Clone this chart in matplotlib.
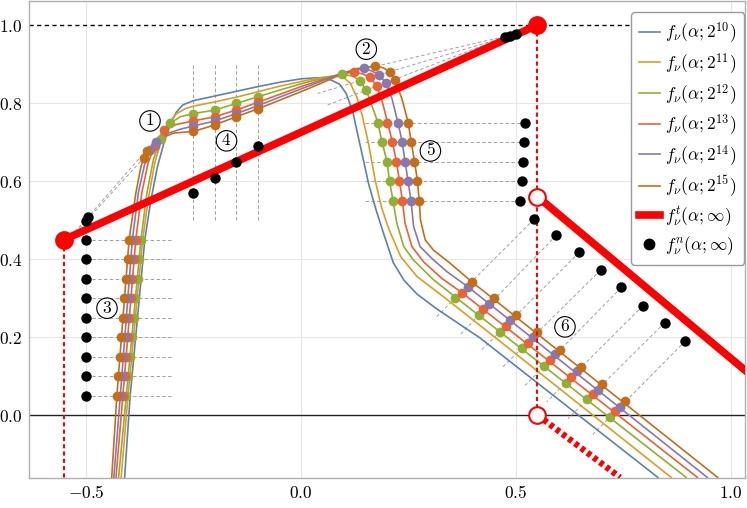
import numpy as np
import matplotlib.pyplot as plt
from matplotlib.lines import Line2D

plt.rcParams['mathtext.fontset'] = 'cm'
plt.rcParams['font.family'] = 'serif'

# colours of the six finite-size curves (k = 10..15)
colors = ['#5E81B5', '#E19C24', '#8FB032', '#EB6235', '#8778B3', '#C56E1A']
labels = [r'$f_\nu(\alpha;2^{%d})$' % k for k in range(10, 16)]

# curves: (alpha, f)
curve_10 = [(-0.410, -0.16), (-0.397, 0.05), (-0.363, 0.45), (-0.349, 0.55), (-0.334, 0.635),
            (-0.318, 0.70), (-0.303, 0.748), (-0.29, 0.776), (-0.275, 0.795), (-0.25, 0.806),
            (-0.20, 0.818), (-0.15, 0.830), (-0.10, 0.842), (-0.05, 0.853), (0.0, 0.862),
            (0.04, 0.865), (0.07, 0.859), (0.09, 0.848), (0.105, 0.825), (0.12, 0.78),
            (0.138, 0.69), (0.158, 0.59), (0.175, 0.525), (0.192, 0.466), (0.215, 0.39),
            (0.24, 0.345), (0.27, 0.31), (0.316, 0.272), (0.416, 0.198), (0.83, -0.16)]
curve_11 = [(-0.418, -0.16), (-0.402, 0.05), (-0.368, 0.45), (-0.354, 0.56), (-0.340, 0.645),
            (-0.325, 0.705), (-0.31, 0.745), (-0.29, 0.772), (-0.27, 0.785), (-0.25, 0.792),
            (-0.20, 0.803), (-0.15, 0.815), (-0.10, 0.829), (-0.05, 0.843), (0.0, 0.855),
            (0.05, 0.866), (0.08, 0.869), (0.10, 0.865), (0.115, 0.850), (0.13, 0.815),
            (0.142, 0.77), (0.157, 0.697), (0.173, 0.60), (0.188, 0.53), (0.204, 0.478),
            (0.232, 0.406), (0.27, 0.355), (0.332, 0.303), (0.447, 0.203), (0.861, -0.16)]
curve_12 = [(-0.424, -0.16), (-0.406, 0.05), (-0.372, 0.45), (-0.358, 0.57), (-0.343, 0.655),
            (-0.326, 0.707), (-0.304, 0.748), (-0.28, 0.765), (-0.25, 0.773), (-0.20, 0.782),
            (-0.15, 0.799), (-0.10, 0.816), (-0.05, 0.833), (0.0, 0.849), (0.05, 0.864),
            (0.095, 0.874), (0.12, 0.869), (0.137, 0.857), (0.152, 0.833), (0.166, 0.79),
            (0.179, 0.75), (0.188, 0.702), (0.200, 0.651), (0.206, 0.60), (0.214, 0.55),
            (0.223, 0.492), (0.239, 0.432), (0.262, 0.397), (0.308, 0.347), (0.361, 0.301),
            (0.896, -0.16)]
curve_13 = [(-0.430, -0.16), (-0.414, 0.05), (-0.384, 0.45), (-0.370, 0.57), (-0.355, 0.648),
            (-0.340, 0.690), (-0.318, 0.731), (-0.29, 0.745), (-0.25, 0.754), (-0.20, 0.765),
            (-0.15, 0.782), (-0.10, 0.802), (-0.05, 0.822), (0.0, 0.842), (0.05, 0.860),
            (0.09, 0.873), (0.123, 0.880), (0.145, 0.874), (0.160, 0.867), (0.177, 0.843),
            (0.19, 0.80), (0.201, 0.752), (0.212, 0.703), (0.222, 0.651), (0.229, 0.60),
            (0.236, 0.55), (0.242, 0.492), (0.258, 0.432), (0.285, 0.393), (0.328, 0.350),
            (0.374, 0.314), (0.922, -0.16)]
curve_14 = [(-0.435, -0.16), (-0.420, 0.05), (-0.392, 0.45), (-0.378, 0.57), (-0.363, 0.645),
            (-0.351, 0.679), (-0.337, 0.700), (-0.31, 0.722), (-0.28, 0.733), (-0.25, 0.741),
            (-0.20, 0.754), (-0.15, 0.773), (-0.10, 0.793), (-0.05, 0.815), (0.0, 0.836),
            (0.05, 0.857), (0.09, 0.874), (0.12, 0.884), (0.146, 0.889), (0.165, 0.882),
            (0.181, 0.872), (0.198, 0.852), (0.212, 0.81), (0.225, 0.752), (0.235, 0.703),
            (0.242, 0.651), (0.249, 0.60), (0.256, 0.55), (0.262, 0.483), (0.277, 0.432),
            (0.304, 0.402), (0.339, 0.368), (0.388, 0.329), (0.945, -0.16)]
curve_15 = [(-0.440, -0.16), (-0.428, 0.05), (-0.3995, 0.45), (-0.384, 0.568), (-0.372, 0.637),
            (-0.365, 0.660), (-0.357, 0.676), (-0.349, 0.688), (-0.326, 0.710), (-0.295, 0.723),
            (-0.25, 0.727), (-0.20, 0.744), (-0.15, 0.765), (-0.10, 0.785), (-0.05, 0.807),
            (0.0, 0.829), (0.05, 0.852), (0.09, 0.872), (0.13, 0.888), (0.173, 0.895),
            (0.192, 0.890), (0.206, 0.880), (0.219, 0.859), (0.235, 0.81), (0.249, 0.752),
            (0.256, 0.703), (0.264, 0.651), (0.271, 0.60), (0.275, 0.55), (0.278, 0.50),
            (0.289, 0.449), (0.308, 0.423), (0.347, 0.389), (0.397, 0.342), (0.969, -0.16)]
curves = [curve_10, curve_11, curve_12, curve_13, curve_14, curve_15]

# marked points on curves k = 12..15 (green, red, purple, brown)
# (1) knee, two ranks
knee_pts = [[(-0.326, 0.707), (-0.304, 0.748)],
            [(-0.340, 0.690), (-0.318, 0.731)],
            [(-0.351, 0.679), (-0.337, 0.700)],
            [(-0.365, 0.660), (-0.357, 0.676)]]
knee_lim = [(-0.500, 0.497), (-0.495, 0.508)]
# (2) peak, three ranks
peak_pts = [[(0.095, 0.874), (0.137, 0.857), (0.152, 0.833)],
            [(0.123, 0.880), (0.160, 0.867), (0.177, 0.843)],
            [(0.146, 0.889), (0.181, 0.872), (0.198, 0.852)],
            [(0.173, 0.895), (0.206, 0.880), (0.219, 0.859)]]
peak_lim = [(0.499, 0.977), (0.487, 0.973), (0.475, 0.969)]
# (3) left steep part, fixed levels
left_levels = [0.05, 0.10, 0.15, 0.20, 0.25, 0.30, 0.35, 0.40, 0.45]
left_alpha = [[-0.406, -0.402, -0.397, -0.393, -0.389, -0.385, -0.380, -0.376, -0.372],
              [-0.414, -0.410, -0.407, -0.403, -0.399, -0.396, -0.392, -0.388, -0.384],
              [-0.420, -0.417, -0.413, -0.410, -0.406, -0.403, -0.399, -0.396, -0.392],
              [-0.428, -0.425, -0.421, -0.418, -0.414, -0.411, -0.407, -0.403, -0.400]]
left_lim_alpha = -0.5
# (4) plateau, fixed alpha
plat_alpha = [-0.25, -0.20, -0.15, -0.10]
plat_f = [[0.773, 0.782, 0.799, 0.816],
          [0.754, 0.765, 0.782, 0.802],
          [0.741, 0.754, 0.773, 0.793],
          [0.727, 0.744, 0.765, 0.785]]
plat_lim = [0.570, 0.609, 0.650, 0.689]
# (5) drop, fixed levels
drop_levels = [0.75, 0.70, 0.65, 0.60, 0.55]
drop_alpha = [[0.179, 0.188, 0.200, 0.206, 0.214],
              [0.201, 0.212, 0.222, 0.229, 0.236],
              [0.225, 0.235, 0.242, 0.249, 0.256],
              [0.249, 0.256, 0.264, 0.271, 0.275]]
drop_lim_alpha = [0.521, 0.519, 0.517, 0.514, 0.509]
# (6) linear tail
tail_pts = [[(0.358, 0.299), (0.414, 0.256), (0.463, 0.214), (0.513, 0.171),
             (0.566, 0.126), (0.616, 0.083), (0.666, 0.040), (0.718, -0.006)],
            [(0.374, 0.314), (0.424, 0.273), (0.477, 0.229), (0.527, 0.185),
             (0.579, 0.141), (0.629, 0.098), (0.679, 0.055), (0.730, 0.011)],
            [(0.388, 0.329), (0.438, 0.285), (0.486, 0.244), (0.540, 0.201),
             (0.590, 0.156), (0.641, 0.114), (0.691, 0.064), (0.741, 0.021)],
            [(0.397, 0.342), (0.450, 0.299), (0.500, 0.256), (0.550, 0.212),
             (0.602, 0.167), (0.652, 0.124), (0.701, 0.079), (0.753, 0.036)]]
tail_lim = [(0.542, 0.502), (0.594, 0.461), (0.647, 0.417), (0.697, 0.372),
            (0.745, 0.327), (0.795, 0.280), (0.846, 0.237), (0.894, 0.190)]

# f^t(alpha; inf)
ft_left = [(-0.55, 0.45), (0.55, 1.0)]
ft_right = [(0.55, 0.56), (1.04, 0.108)]
ft_dash = [(0.55, 0.0), (0.742, -0.16)]

circ_labels = ['1', '2', '3', '4', '5', '6']
circ_pos = [(-0.351, 0.754), (0.152, 0.938), (-0.451, 0.274),
            (-0.173, 0.703), (0.301, 0.677), (0.614, 0.226)]

fig = plt.figure(figsize=(7.47, 5.08), dpi=100)
ax = fig.add_axes([0.039, 0.059, 0.958, 0.939])
ax.set_xlim(-0.632, 1.032)
ax.set_ylim(-0.1615, 1.0615)

grid_c = '#e6e6e6'
for x in [-0.5, 0.0, 0.5, 1.0]:
    ax.axvline(x, color=grid_c, lw=0.8, zorder=0)
for y in [0.2, 0.4, 0.6, 0.8]:
    ax.axhline(y, color=grid_c, lw=0.8, zorder=0)
ax.axhline(0.0, color='#222222', lw=1.0, zorder=1)
ax.axhline(1.0, color='black', lw=1.0, ls=(0, (3, 2.5)), zorder=1)

gkw = dict(color='#a0a0a0', lw=0.7, ls=(0, (3.5, 2.5)), zorder=2)


def guide(p_lim, p_far, ext_lim=0.0, ext_far=0.0):
    p0 = np.array(p_lim)
    p1 = np.array(p_far)
    d = p1 - p0
    a = p0 - ext_lim * d
    b = p1 + ext_far * d
    ax.plot([a[0], b[0]], [a[1], b[1]], **gkw)


# guide lines
for r in range(2):
    guide(knee_lim[r], knee_pts[0][r], 0.3, 0.02)
for r in range(3):
    guide(peak_lim[r], peak_pts[0][r], 0.0, 0.28)
for y in left_levels:
    ax.plot([left_lim_alpha, -0.30], [y, y], **gkw)
for x in plat_alpha:
    ax.plot([x, x], [0.5, 0.9], **gkw)
for y, xl in zip(drop_levels, drop_lim_alpha):
    ax.plot([0.15, xl], [y, y], **gkw)
for r in range(8):
    guide(tail_lim[r], tail_pts[0][r], 0.0, 0.25)

# curves
for c, col, lab in zip(curves, colors, labels):
    a, f = zip(*c)
    ax.plot(a, f, color=col, lw=1.2, zorder=3)

# coloured marks (curves k=12..15)
mkw = dict(ls='none', marker='o', ms=7, mew=0, zorder=4)
for i in range(4):
    col = colors[i + 2]
    pts = knee_pts[i] + peak_pts[i] + tail_pts[i]
    a, f = zip(*pts)
    ax.plot(a, f, color=col, **mkw)
    ax.plot(left_alpha[i], left_levels, color=col, **mkw)
    ax.plot(plat_alpha, plat_f[i], color=col, **mkw)
    ax.plot(drop_alpha[i], drop_levels, color=col, **mkw)

# f^t
rkw = dict(color='#ff0000', solid_capstyle='butt')
ax.plot(*zip(*ft_left), lw=5.5, zorder=5, **rkw)
ax.plot(*zip(*ft_right), lw=5.5, zorder=5, **rkw)
ax.plot(*zip(*ft_dash), lw=4.5, ls=(0, (0.7, 0.55)), zorder=5, color='#ff0000')
ax.plot([-0.55, -0.55], [0.45, -0.2], color='#ff0000', lw=1.5, ls=(0, (2, 1.5)), zorder=5)
ax.plot([0.55, 0.55], [1.0, 0.0], color='#ff0000', lw=1.5, ls=(0, (2, 1.5)), zorder=5)
ax.plot([ft_left[0][0], ft_left[1][0]], [ft_left[0][1], ft_left[1][1]], ls='none',
        marker='o', ms=12.5, color='#ff0000', zorder=6)
ax.plot([ft_right[0][0], ft_dash[0][0]], [ft_right[0][1], ft_dash[0][1]], ls='none',
        marker='o', ms=12, mfc='white', mec='#ff0000', mew=1.5, zorder=6)

# f^n black limits
bkw = dict(ls='none', marker='o', ms=7.5, color='black', mew=0, zorder=7)
ax.plot(*zip(*knee_lim), **bkw)
ax.plot(*zip(*peak_lim), **bkw)
ax.plot([left_lim_alpha] * len(left_levels), left_levels, **bkw)
ax.plot(plat_alpha, plat_lim, **bkw)
ax.plot(drop_lim_alpha, drop_levels, **bkw)
ax.plot(*zip(*tail_lim), **bkw)

for t, (x, y) in zip(circ_labels, circ_pos):
    ax.text(x, y, '$%s$' % t, fontsize=12.5, ha='center', va='center', zorder=8,
            bbox=dict(boxstyle='circle,pad=0.1', fc='none', ec='black', lw=0.8))

ax.set_xticks([-0.5, 0.0, 0.5, 1.0])
ax.set_xticklabels([r'$-0.5$', r'$0.0$', r'$0.5$', r'$1.0$'])
ax.set_yticks([0.0, 0.2, 0.4, 0.6, 0.8, 1.0])
ax.set_yticklabels([r'$0.0$', r'$0.2$', r'$0.4$', r'$0.6$', r'$0.8$', r'$1.0$'])
ax.tick_params(length=0, labelsize=12.5, pad=5)
for s in ax.spines.values():
    s.set_color('#b0b0b0')
    s.set_linewidth(1.0)

handles = [Line2D([], [], color=c, lw=1.2) for c in colors]
handles.append(Line2D([], [], color='#ff0000', lw=5.5))
handles.append(Line2D([], [], color='black', ls='none', marker='o', ms=7.5))
leg_labels = labels + [r'$f^t_\nu(\alpha;\infty)$', r'$f^n_\nu(\alpha;\infty)$']
leg = ax.legend(handles, leg_labels, loc='upper right', bbox_to_anchor=(0.999, 0.976),
                fontsize=12.5, handlelength=1.2, handletextpad=0.3, labelspacing=0.33,
                borderaxespad=0, borderpad=0.45, framealpha=1, fancybox=True)
leg.get_frame().set_edgecolor('#999999')
leg.set_zorder(10)

fig.savefig('out.png', dpi=100)
